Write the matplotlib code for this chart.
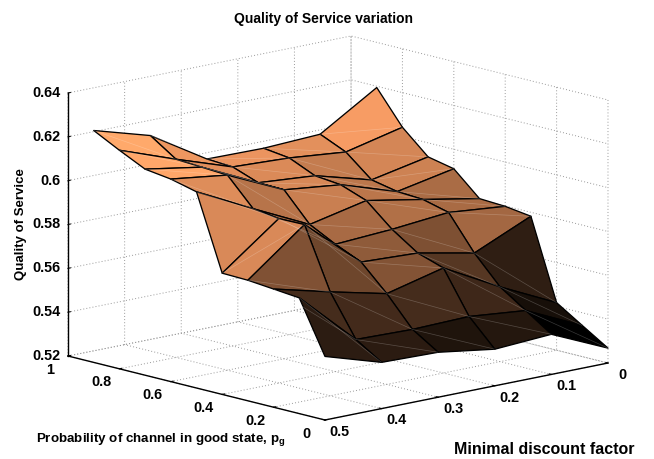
import numpy as np
import matplotlib
matplotlib.use("Agg")
import matplotlib.pyplot as plt
from matplotlib.colors import Normalize
from mpl_toolkits.mplot3d.art3d import Line3DCollection

plt.rcParams['font.family'] = ['Liberation Sans', 'DejaVu Sans']
plt.rcParams['mathtext.fontset'] = 'custom'
plt.rcParams['mathtext.rm'] = 'Liberation Sans:bold'
plt.rcParams['mathtext.it'] = 'Liberation Sans:bold'
plt.rcParams['mathtext.default'] = 'rm'

discount = [0.5, 0.4, 0.3, 0.2, 0.1, 0.0]
prob_good = [0.0, 0.1, 0.2, 0.3, 0.4, 0.5, 0.6, 0.7, 0.8, 0.9]
qos_d050 = [.5490, .5728, .5739, .5750, .5753, .6095, .6124, .6140, .6197, .6258]
qos_d040 = [.5411, .5486, .5674, .5952, .5950, .5966, .6090, .6097, .6104, .6183]
qos_d030 = [.5405, .5480, .5614, .5729, .5781, .5842, .5971, .5974, .6017, .6024]
qos_d020 = [.5367, .5487, .5679, .5718, .5797, .5899, .5942, .5954, .6006, .6021]
qos_d010 = [.5383, .5462, .5541, .5666, .5822, .5852, .5859, .5883, .5981, .6033]
qos_d000 = [.5268, .5342, .5417, .5782, .5798, .5804, .5911, .5936, .6042, .6194]

x_ticks = [0, 0.1, 0.2, 0.3, 0.4, 0.5]
x_labels = ['0', '0.1', '0.2', '0.3', '0.4', '0.5']
y_ticks = [0, 0.2, 0.4, 0.6, 0.8, 1]
y_labels = ['0', '0.2', '0.4', '0.6', '0.8', '1']
z_ticks = [0.52, 0.54, 0.56, 0.58, 0.6, 0.62, 0.64]
z_labels = ['0.52', '0.54', '0.56', '0.58', '0.6', '0.62', '0.64']

W, H = 654, 459
fig = plt.figure(figsize=(W / 100, H / 100), dpi=100)
P = 600
cx, cy = 329.9, 236.1
ax = fig.add_axes([(cx - P / 2) / W, (H - cy - P / 2) / H, P / W, P / H], projection='3d',
                  computed_zorder=False)
ax.patch.set_alpha(0)
ax.set_proj_type('ortho')
ax.view_init(elev=12.94, azim=-131.96)
ax.set_box_aspect((380.6, 384.3, 269.9), zoom=0.978)

X, Y = np.meshgrid(discount[::-1], prob_good, indexing='ij')
Z = np.array([qos_d000, qos_d010, qos_d020, qos_d030, qos_d040, qos_d050])
norm = Normalize(Z.min(), Z.max())
fc = plt.cm.copper(norm(Z))
ax.plot_surface(X, Y, Z, rstride=1, cstride=1, facecolors=fc, shade=False,
                edgecolor='black', linewidth=0.95, antialiased=True, zorder=2)

# faint seams across each quad
seams = []
for i in range(X.shape[0] - 1):
    for j in range(X.shape[1] - 1):
        seams.append([(X[i, j], Y[i, j], Z[i, j]), (X[i + 1, j + 1], Y[i + 1, j + 1], Z[i + 1, j + 1])])
ax.add_collection3d(Line3DCollection(seams, colors=[(1, 1, 1, 0.22)], linewidths=0.5, zorder=3))

ax.set_xlim(0.5, 0, view_margin=0)
ax.set_ylim(0, 1, view_margin=0)
ax.set_zlim(0.52, 0.64, view_margin=0)
ax.set_xticks(x_ticks, x_labels)
ax.set_yticks(y_ticks, y_labels)
ax.set_zticks(z_ticks, z_labels)

for a in (ax.xaxis, ax.yaxis, ax.zaxis):
    a.set_pane_color((1, 1, 1, 0))
    a.pane.set_edgecolor((1, 1, 1, 0))
    a._axinfo['grid'].update(color='#999999', linestyle=(0, (1, 2.2)), linewidth=0.7)
    a._axinfo['tick'].update(inward_factor=0.0, outward_factor=0.1, linewidth={True: 0.8, False: 0.8})
    a.line.set_linewidth(1.0)
    a.line.set_color('black')
ax.tick_params(labelsize=10.4)
ax.xaxis.set_tick_params(pad=5)
ax.yaxis.set_tick_params(pad=6.5)
ax.zaxis.set_tick_params(pad=-5)
for lab in ax.get_xticklabels() + ax.get_yticklabels():
    lab.set_fontweight('bold')
    lab.set_va('bottom')
for lab in ax.get_zticklabels():
    lab.set_fontweight('bold')
    lab.set_va('center')
    lab.set_ha('right')

fig.text(324 / W, 1 - 19 / H, 'Quality of Service variation', ha='center', va='center',
         fontsize=10, fontweight='bold')
fig.text(21 / W, 1 - 224 / H, 'Quality of Service', rotation=90, ha='center', va='center',
         fontsize=9.5, fontweight='bold')
fig.text(36 / W, 1 - 439 / H, r'Probability of channel in good state, p$_{\mathrm{g}}$', ha='left', va='center',
         fontsize=9.6, fontweight='bold')
fig.text(544 / W, 1 - 450 / H, 'Minimal discount factor', ha='center', va='center',
         fontsize=11.5, fontweight='bold')

fig.savefig('out.png', dpi=100)
